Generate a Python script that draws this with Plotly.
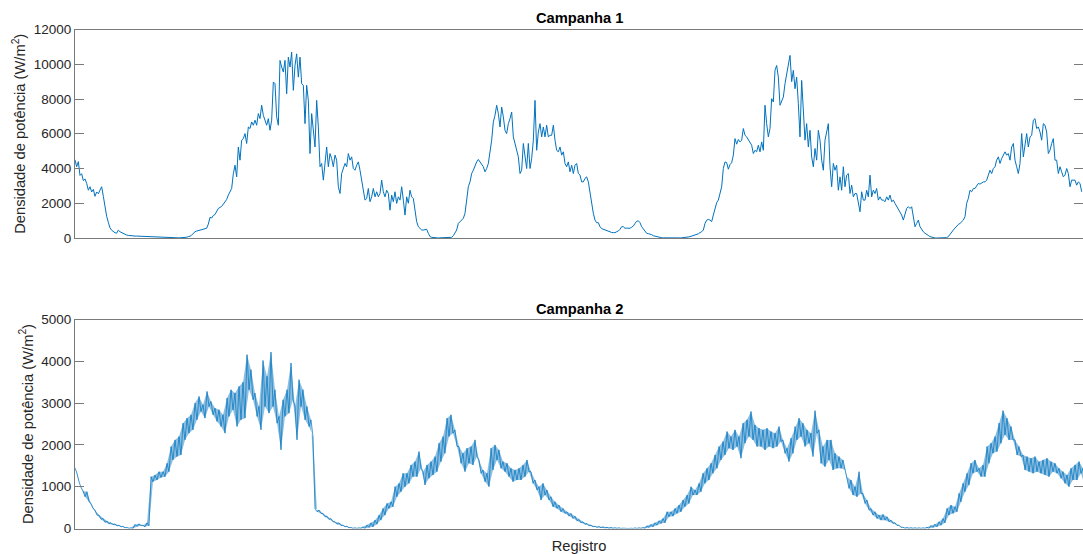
import numpy as np
import plotly.graph_objects as go

# Campanha 1: densidade de potência (W/m²) ao longo dos registros
campanha1 = [
    4500, 4100, 4400, 3600, 3700, 3300, 3400, 3150, 2750, 2950,
    2650, 2800, 2400, 2650, 2550, 2750, 2950, 2400, 1800, 1250,
    900, 580, 450, 360, 300, 280, 450, 360, 300, 260,
    210, 170, 150, 130, 120, 115, 110, 110, 105, 100,
    95, 90, 80, 75, 70, 60, 55, 50, 45, 40,
    35, 30, 25, 20, 15, 15, 10, 10, 5, 5,
    5, 5, 10, 10, 15, 20, 30, 45, 80, 100,
    170, 270, 360, 400, 430, 460, 480, 500, 520, 560,
    800, 1190, 1150, 1300, 1350, 1520, 1700, 1760, 1820, 1950,
    2090, 2220, 2470, 2660, 2850, 3700, 4190, 3520, 5240, 4480,
    5630, 5720, 6010, 5440, 6390, 6300, 6680, 6490, 6780, 6490,
    7160, 6870, 7640, 7060, 6780, 6490, 6870, 6200, 6780, 8980,
    8880, 6970, 6490, 10220, 9840, 9550, 10220, 8300, 10410, 9840,
    10700, 8500, 9930, 10600, 9260, 10410, 8880, 8790, 6580, 8790,
    7920, 4860, 7160, 6010, 5240, 7920, 6390, 4100, 4290, 3330,
    4290, 5240, 4100, 4860, 4570, 4100, 4770, 4480, 2950, 2560,
    3710, 4000, 4290, 4100, 4860, 4480, 4670, 4000, 3900, 4190,
    4380,
    3900, 3330, 2560, 2180, 2270, 2850, 2090, 2370, 2850, 2370,
    2660, 2370, 2560, 3330, 2660, 2370, 2750, 2560, 1600, 2470,
    2090, 2660, 1990, 2370, 2180, 2950, 2180, 1320, 2370, 2000,
    2750, 2370, 2270, 1420, 940, 650, 560, 460, 460, 500,
    500, 270, 80, 40, 20, 10, 0, 0, 10, 10,
    10, 20, 30, 10, 0, 40, 130, 270, 460, 840,
    940, 1030, 1130, 1420, 2180, 2950, 3230, 3710, 3900, 4190,
    4380, 4520, 4380, 4290, 4100, 3810, 4000, 4290, 4860, 5630,
    6680, 7060, 7640, 7160, 6390, 7540, 6970, 6200, 6010, 6580,
    6870, 7250, 5820, 5440, 5150, 4670, 3710, 3900, 5440, 4770,
    4000, 5440, 4000, 4570, 5630, 7920, 5050, 6100, 6580, 5820,
    6390, 5820, 6490, 5820, 5910, 5910, 6490, 5630, 5050, 4960,
    5240, 4770, 4960, 4290, 4100, 4380, 3810, 4190, 3710, 4190,
    4290, 3710, 3620, 3230, 3230, 3430, 3520, 3230, 2560, 1990,
    1420, 1030, 880, 880, 650, 540, 500, 480, 460, 420,
    360, 320, 310, 310, 360, 400, 500, 650, 650, 560,
    570, 560, 560, 620, 690, 840, 960, 990, 880, 650,
    500, 360, 270, 250, 230, 190, 130, 100, 60, 50,
    20, 15, 10, 5, 0, 0, 0, 0, 0, 0,
    0, 5, 5, 10, 15, 25, 40, 60, 80, 110,
    130, 170, 210, 240,
    310, 360, 460, 840, 1030, 1070, 1030, 940, 1320, 1700, 2030, 2180,
    2660, 2950, 4000, 4380, 4340, 3960, 4230, 4330, 4770, 5720,
    5400, 5670, 5530, 5630, 6300, 5910, 5820, 5630, 5530, 5340,
    4860, 5050, 4960, 5340, 4960, 5530, 5050, 7640, 6580, 5820,
    6300, 8020, 7830, 9650, 9930, 9260, 7640, 7920, 8110, 8880,
    9360, 10030, 10510, 9000, 9650, 8590, 9260, 7730, 5820, 9070,
    6970, 5630, 6580, 5240, 6200, 4670, 4100, 5150, 4480, 6200,
    5630, 4480, 3900, 5630, 6100, 6580, 4100, 2950, 4290, 3900,
    4190, 2750, 3520, 2750, 4100, 2950, 3620, 3710, 2560, 3040,
    2370, 2560, 2560, 1990, 1510, 2660, 2180, 2180, 2750, 2370,
    3620, 2370, 2750, 2560, 2850, 2180, 2370, 2180, 2180, 2090,
    2370, 2180, 2470, 2090, 2180, 1990, 1800, 1610, 1510, 1320,
    1030, 1420, 1700, 1800, 1700, 1800, 1320, 650, 840, 1030,
    650, 460, 360, 270, 230, 150, 80, 40, 0, 0,
    0, 0, 0, 0, 0, 10, 20, 80, 230, 310,
    460, 570, 690, 780, 840, 960, 1030, 1230, 1990, 2280,
    2750, 2660, 2850, 2850, 3040, 3140, 3100, 3180, 3230, 3230,
    3330, 3620, 3900, 3710, 4000, 4100, 4480, 4670, 4290, 4570,
    4770, 4960, 4770, 4860, 4480, 5240, 5440, 4480, 4100, 3710,
    4290, 6010, 4670, 5440, 6010, 5240, 5820, 5910, 6780, 6870,
    6300, 6390, 6100, 5630, 6580, 6490, 6100, 4860, 5050, 5440,
    5720, 4480, 4480, 3710, 4100, 3810, 3520, 3620, 4000, 3710,
    2950, 3330, 3330, 3330, 3040, 3230, 3140, 2660,
]

# Campanha 2: o sinal oscila muito entre registros vizinhos, por isso
# guardamos o valor alto e o baixo de cada trecho
campanha2_sup = [
    1450, 1120, 900, 880, 600, 440, 320, 240, 180, 140,
    110, 80, 50, 24, 16, 96, 112, 80, 136, 1240,
    1280, 1360, 1360, 1560, 1960, 2120, 2200, 2520, 2640, 2720,
    3000, 3160, 2960, 3280, 3040, 2880, 2840, 2720, 3120, 3320,
    3240, 3400, 3500, 4160, 3800, 3240, 2920, 4020, 3640, 4220,
    3320, 2680, 3080, 3320, 3960, 2920, 3560, 3320, 2920, 2600,
    480, 440, 360, 296, 240, 160, 136, 80, 56, 24,
    16, 16, 40, 80, 136, 200, 320, 480, 600, 640,
    1000, 1080, 1320, 1320, 1520, 1600, 1840, 1360, 1520, 1600,
    1720, 2040, 2200, 2640, 2720, 2360, 1960, 1800, 1920, 1960,
    2120, 1640, 1400, 1320, 1920, 2000, 1880, 1600, 1560, 1440,
    1400, 1440, 1520, 1640, 1360, 1160, 1000, 1080, 920, 760,
    640, 560, 480, 400, 360, 296, 216, 160, 120, 80,
    56, 48, 40, 32, 24, 16, 16, 8, 8, 8,
    16, 16, 24, 64, 96, 136, 184, 240, 400, 400,
    480, 560, 680, 800, 1000, 920, 1080, 1320, 1440, 1560,
    1760, 1960, 2080, 2320, 2200, 2360, 2200, 2520, 2600, 2800,
    2480, 2400, 2360, 2400, 2320, 2280, 2440, 2120, 1920, 2160,
    2440, 2640, 2520, 2360, 2280, 2820, 2360, 1960, 2120, 2120,
    1800, 1720, 1640, 1240, 1160, 1000, 1360, 840, 680, 480,
    400, 320, 336, 280, 200, 136, 80, 32, 24, 16,
    16, 16, 16, 32, 72, 104, 160, 240, 480, 560,
    520, 840, 1080, 1320, 1560, 1640, 1440, 1520, 1960, 2040,
    2200, 2520, 2820, 2640, 2440, 2120, 1960, 1760, 1720, 1680,
    1720, 1600, 1640, 1680, 1600, 1560, 1440, 1360, 1280, 1440,
    1520, 1600, 1440,
]
campanha2_inf = [
    1320, 980, 760, 640, 480, 320, 220, 150, 110, 90,
    60, 40, 16, 0, 0, 48, 64, 40, 64, 1120,
    1160, 1220, 1240, 1360, 1640, 1720, 1760, 2120, 2280, 2360,
    2600, 2800, 2640, 2920, 2720, 2560, 2440, 2280, 2680, 2840,
    2440, 2600, 2640, 3320, 3080, 2680, 2360, 2920, 2760, 2920,
    2520, 1880, 2680, 2760, 3080, 2120, 2920, 2600, 2440, 2200,
    400, 360, 280, 216, 160, 104, 72, 40, 16, 0,
    0, 0, 0, 24, 40, 104, 200, 320, 480, 520,
    760, 880, 1000, 1080, 1240, 1240, 1440, 1040, 1200, 1280,
    1360, 1600, 1800, 2200, 2280, 1960, 1560, 1360, 1560, 1520,
    1720, 1320, 1120, 1000, 1400, 1640, 1440, 1360, 1240, 1120,
    1160, 1160, 1240, 1360, 1080, 920, 680, 800, 680, 520,
    480, 400, 360, 296, 240, 184, 136, 96, 64, 40,
    24, 16, 8, 0, 0, 0, 0, 0, 0, 0,
    0, 0, 0, 24, 40, 80, 120, 136, 280, 296,
    360, 400, 520, 600, 800, 800, 880, 1080, 1160, 1320,
    1440, 1640, 1760, 1920, 1880, 1960, 1680, 2040, 2200, 2120,
    1960, 1960, 1880, 1960, 1920, 1960, 2080, 1800, 1600, 1800,
    2120, 2200, 1960, 2040, 1720, 2280, 1560, 1480, 1640, 1400,
    1440, 1440, 1400, 960, 800, 760, 840, 600, 440, 320,
    240, 200, 200, 160, 120, 72, 24, 0, 0, 0,
    0, 0, 0, 0, 24, 40, 80, 136, 320, 360,
    400, 640, 880, 1040, 1320, 1360, 1240, 1240, 1560, 1800,
    1840, 2040, 2240, 2120, 2120, 1760, 1720, 1400, 1360, 1320,
    1360, 1320, 1280, 1240, 1360, 1320, 1200, 1080, 1000, 1160,
    1160, 1320, 1000,
]

y_titulo = "Densidade de potência (W/m<sup>2</sup>)"
titulos = ["Campanha 1", "Campanha 2"]
rotulo_x = "Registro"

azul = "#0072BD"
azul_faixa = "rgba(0,114,189,0.45)"
cinza_eixo = "#7a7a7a"
cor_texto = "#262626"
fonte = "Liberation Sans, Arial, Helvetica, sans-serif"

y1 = np.array(campanha1, dtype=float)
x1 = np.arange(len(y1))

# campanha 2: valores alto e baixo de cada trecho, em registros par/ímpar
sup = np.array(campanha2_sup, dtype=float)
inf = np.array(campanha2_inf, dtype=float)
x_sup = np.arange(len(sup)) * 2
x_inf = x_sup + 1
y2 = np.column_stack([sup, inf]).ravel()
x2 = np.column_stack([x_sup, x_inf]).ravel()

fig = go.Figure()
fig.add_trace(go.Scatter(x=x1, y=y1, mode="lines", xaxis="x", yaxis="y",
                         line=dict(color=azul, width=1), hoverinfo="skip"))
# envoltória clara entre o valor baixo e o alto, com o sinal por cima
fig.add_trace(go.Scatter(x=x_inf, y=inf, mode="lines", xaxis="x2", yaxis="y2",
                         line=dict(color=azul, width=0), hoverinfo="skip"))
fig.add_trace(go.Scatter(x=x_sup, y=sup, mode="lines", xaxis="x2", yaxis="y2",
                         line=dict(color=azul, width=0), fill="tonexty",
                         fillcolor=azul_faixa, hoverinfo="skip"))
fig.add_trace(go.Scatter(x=x2, y=y2, mode="lines", xaxis="x2", yaxis="y2",
                         line=dict(color=azul, width=0.7), hoverinfo="skip"))

W, H = 1083, 554
xdom = [75 / W, 1.0]
dom_top = [1 - 238 / H, 1 - 29.5 / H]
dom_bot = [1 - 528.5 / H, 1 - 319.5 / H]

eixo_x = dict(domain=xdom, showline=True, mirror=True, linecolor=cinza_eixo,
              linewidth=1, ticks="", showticklabels=False, showgrid=False,
              zeroline=False, automargin=False)
eixo_y = dict(showline=True, mirror="ticks", linecolor=cinza_eixo, linewidth=1,
              ticks="inside", ticklen=9, tickcolor=cinza_eixo, showgrid=False,
              zeroline=False, automargin=False, tickformat="d",
              tickfont=dict(size=13.5, color=cor_texto, family=fonte),
              title=dict(text=y_titulo, font=dict(size=14.7, color=cor_texto, family=fonte),
                         standoff=4))

fig.update_layout(
    width=W, height=H,
    margin=dict(l=0, r=0, t=0, b=0, pad=0, autoexpand=False),
    paper_bgcolor="white", plot_bgcolor="white", showlegend=False,
    font=dict(family=fonte, color=cor_texto),
    xaxis=dict(eixo_x, range=[0, 604.8], anchor="y"),
    yaxis=dict(eixo_y, domain=dom_top, range=[0, 12000], dtick=2000, anchor="x"),
    xaxis2=dict(eixo_x, range=[0, 504], anchor="y2",
                title=dict(text=rotulo_x, standoff=15,
                           font=dict(size=14.7, color=cor_texto, family=fonte))),
    yaxis2=dict(eixo_y, domain=dom_bot, range=[0, 5000], dtick=1000, anchor="x2"),
    annotations=[
        dict(text="<b>%s</b>" % titulos[0], xref="paper", yref="paper",
             x=(xdom[0] + 1) / 2, y=dom_top[1], yanchor="bottom", yshift=1,
             showarrow=False, font=dict(size=14.7, color="black", family=fonte)),
        dict(text="<b>%s</b>" % titulos[1], xref="paper", yref="paper",
             x=(xdom[0] + 1) / 2, y=dom_bot[1], yanchor="bottom", yshift=1,
             showarrow=False, font=dict(size=14.7, color="black", family=fonte)),
    ],
)

fig.write_html("out.html")
